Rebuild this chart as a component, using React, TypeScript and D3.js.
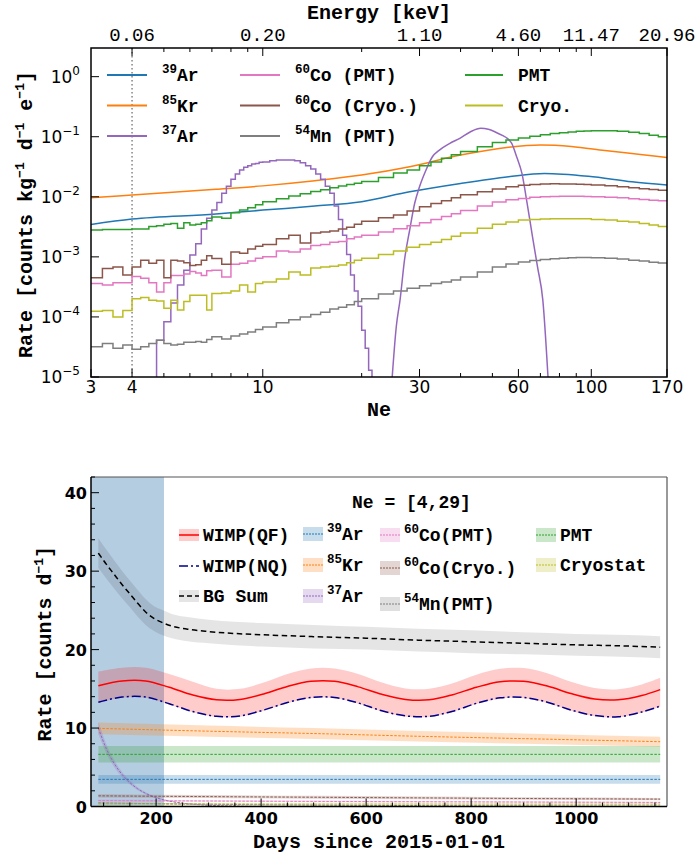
import React from 'react';
import * as d3 from 'd3';

const MONO = "'Liberation Mono', 'Courier New', monospace";
const SANS = "'DejaVu Sans', Verdana, sans-serif";

const C = {
  blue: '#1f77b4', orange: '#ff7f0e', green: '#2ca02c', red: '#d62728', purple: '#9467bd',
  brown: '#8c564b', pink: '#e377c2', gray: '#7f7f7f', olive: '#bcbd22',
};

// ---------------- TOP PANEL DATA (rate vs Ne) ----------------
const NE_EDGES = [3, 3.25, 3.5, 3.75, 4, 4.25, 4.5, 4.75, 5, 5.25, 5.5, 5.75, 6, 6.25, 6.5, 6.75, 7,
  7.5, 8, 8.5, 9, 9.5, 10, 11, 12, 13, 14, 15, 16, 17, 18, 19, 20,
  22.5, 25, 27.5, 30, 32.5, 35, 37.5, 40, 45, 50, 55, 60, 65, 70, 75, 80, 85, 90, 95, 100,
  110, 120, 130, 140, 150, 160, 170];

const SPEC_CO60_CRYO = [4.5e-4, 6.4e-4, 6.8e-4, 5.0e-4, 6.8e-4, 8.8e-4, 7.8e-4, 8.8e-4, 4.5e-4, 8.8e-4, 8.5e-4, 8.0e-4, 7.2e-4, 7.4e-4, 8.8e-4, 1.04e-3,
  9.4e-4, 7.5e-4, 1.2e-3, 1.15e-3, 1.35e-3, 1.5e-3,
  1.6e-3, 2.0e-3, 2.3e-3, 1.7e-3, 2.5e-3, 2.6e-3, 2.7e-3, 2.9e-3, 3.1e-3, 3.5e-3,
  3.9e-3, 4.5e-3, 5.0e-3, 5.8e-3, 6.8e-3, 7.7e-3, 8.6e-3, 9.6e-3,
  0.0108, 0.0121, 0.0135, 0.0147, 0.0155, 0.016, 0.0163, 0.0165, 0.0164, 0.0163, 0.0162, 0.016,
  0.0157, 0.0152, 0.0147, 0.0141, 0.0136, 0.0132, 0.0129];

const SPEC_CO60_PMT = [3.6e-4, 3.4e-4, 3.7e-4, 3.7e-4, 4.7e-4, 4.4e-4, 3.7e-4, 2.6e-4, 3.7e-4, 4.9e-4, 4.9e-4, 5.2e-4, 5.7e-4, 5.4e-4, 4.9e-4, 5.9e-4,
  6.0e-4, 4.6e-4, 7.5e-4, 7.8e-4, 8.5e-4, 9.5e-4,
  1.0e-3, 1.25e-3, 1.2e-3, 1.35e-3, 1.55e-3, 1.6e-3, 1.75e-3, 1.8e-3, 2.0e-3, 2.15e-3,
  2.3e-3, 2.6e-3, 2.95e-3, 3.3e-3, 3.7e-3, 4.2e-3, 4.7e-3, 5.2e-3,
  5.9e-3, 7.0e-3, 8.2e-3, 8.9e-3, 9.4e-3, 9.8e-3, 0.0100, 0.0101, 0.0102, 0.0102, 0.0102, 0.0101,
  0.0100, 9.8e-3, 9.6e-3, 9.3e-3, 9.0e-3, 8.8e-3, 8.6e-3];

const SPEC_CRYO = [1.24e-4, 1.28e-4, 1.0e-4, 1.28e-4, 2.0e-4, 2.1e-4, 1.9e-4, 1.85e-4, 1.4e-4, 1.9e-4, 1.3e-4, 1.8e-4, 2.3e-4, 2.3e-4, 2.3e-4, 1.3e-4,
  2.45e-4, 2.5e-4, 2.7e-4, 3.4e-4, 2.6e-4, 3.6e-4,
  3.8e-4, 4.3e-4, 5.6e-4, 5.0e-4, 6.5e-4, 6.8e-4, 7.0e-4, 7.3e-4, 8.0e-4, 8.8e-4,
  9.5e-4, 1.1e-3, 1.25e-3, 1.45e-3, 1.6e-3, 1.75e-3, 1.95e-3, 2.2e-3,
  2.5e-3, 3.0e-3, 3.5e-3, 3.8e-3, 4.1e-3, 4.2e-3, 4.25e-3, 4.3e-3, 4.3e-3, 4.3e-3, 4.3e-3, 4.3e-3,
  4.2e-3, 4.1e-3, 3.9e-3, 3.8e-3, 3.6e-3, 3.4e-3, 3.2e-3];

const SPEC_MN54 = [3.2e-5, 3.6e-5, 3.0e-5, 3.4e-5, 2.9e-5, 3.2e-5, 3.6e-5, 4.1e-5, 3.6e-5, 3.4e-5, 3.5e-5, 3.8e-5, 3.8e-5, 3.9e-5, 3.8e-5, 4.2e-5,
  4.7e-5, 4.3e-5, 4.8e-5, 5.2e-5, 5.6e-5, 6.2e-5,
  6.8e-5, 8.0e-5, 9.0e-5, 1.0e-4, 1.1e-4, 1.2e-4, 1.35e-4, 1.45e-4, 1.6e-4, 1.8e-4,
  2.0e-4, 2.4e-4, 2.7e-4, 3.0e-4, 3.3e-4, 3.6e-4, 3.8e-4, 4.1e-4,
  4.6e-4, 5.6e-4, 6.8e-4, 7.6e-4, 8.2e-4, 8.7e-4, 9.0e-4, 9.3e-4, 9.5e-4, 9.7e-4, 9.8e-4, 9.8e-4,
  9.7e-4, 9.5e-4, 9.2e-4, 8.8e-4, 8.5e-4, 8.1e-4, 7.9e-4];

const SPEC_PMT = [2.8e-3, 2.85e-3, 2.85e-3, 2.85e-3, 2.9e-3, 2.9e-3, 3.2e-3, 3.3e-3, 3.5e-3, 3.6e-3, 3.0e-3, 3.7e-3, 3.4e-3, 3.5e-3, 3.7e-3, 4.0e-3,
  4.6e-3, 4.4e-3, 5.4e-3, 6.0e-3, 6.6e-3, 7.4e-3,
  8.3e-3, 9.3e-3, 0.0103, 0.0112, 0.0122, 0.0131, 0.0141, 0.0151, 0.016, 0.0168,
  0.018, 0.021, 0.025, 0.028, 0.033, 0.038, 0.044, 0.050,
  0.057, 0.068, 0.080, 0.088, 0.095, 0.102, 0.108, 0.113, 0.117, 0.120, 0.123, 0.125,
  0.126, 0.126, 0.123, 0.119, 0.113, 0.106, 0.100];

const AR39_NE = [3, 4, 7.2, 10, 14.4, 20, 28, 40, 56, 72, 98, 133, 170];
const AR39_RATE = [3.45e-3, 4.25e-3, 5.15e-3, 6.0e-3, 7.0e-3, 8.3e-3, 0.0121, 0.0167, 0.0216, 0.0245, 0.022, 0.0178, 0.0157];

const KR85_NE = [3, 4, 7.2, 10, 14.4, 20, 28, 40, 56, 70, 87, 110, 139, 170];
const KR85_RATE = [9.6e-3, 0.0107, 0.0133, 0.0152, 0.0185, 0.023, 0.0316, 0.0495, 0.067, 0.073, 0.069, 0.059, 0.051, 0.045];

const AR37_LOW_EDGES = [4.5, 4.75, 5, 5.25, 5.5, 5.75, 6, 6.25, 6.5, 6.75, 7, 7.25, 7.5, 7.75, 8, 8.25, 8.5, 8.75, 9, 9.25, 9.5, 9.75, 10,
  10.5, 11, 11.5, 12, 12.5, 13, 13.5, 14, 14.5, 15, 15.5, 16, 16.5, 17, 17.5, 18, 18.5, 19, 19.5, 20, 20.5, 21, 21.5, 22];
const AR37_LOW_RATE = [1e-6, 4.1e-5, 8.3e-5, 1.7e-4, 3.4e-4, 6.0e-4, 1.07e-3, 1.65e-3, 2.9e-3, 4.4e-3, 6.0e-3, 8.0e-3, 0.0115, 0.015, 0.0195, 0.024,
  0.028, 0.031, 0.033, 0.035, 0.036, 0.0375,
  0.038, 0.040, 0.041, 0.041, 0.041, 0.040, 0.037, 0.033, 0.029, 0.024, 0.0195, 0.015, 0.0115, 7e-3, 4.2e-3, 2.3e-3, 1.1e-3, 5e-4,
  2.7e-4, 1.5e-4, 6e-5, 3e-5, 1.3e-5, 1e-6];

const AR37_HIGH_NE = [24.7, 25.5, 26.2, 27.0, 28.0, 29.0, 30.0, 31.4, 32.8, 34.5, 37.0, 39.8, 42.9, 46.1, 48.6, 51.0, 53.6, 55.5, 57.2,
  59.3, 61.5, 63.8, 66.2, 68.6, 71.2, 74.0];
const AR37_HIGH_RATE = [8e-6, 7e-5, 2e-4, 8.8e-4, 2.8e-3, 7.8e-3, 0.0147, 0.028, 0.046, 0.060, 0.077, 0.094, 0.121, 0.138, 0.133, 0.120,
  0.105, 0.094, 0.078, 0.046, 0.0245, 7.7e-3, 2.2e-3, 6.8e-4, 1.9e-4, 8e-6];

const TOP_X_MAJOR = [3, 4, 10, 30, 60, 100, 170];
const TOP_X_MINOR = [5, 6, 7, 8, 9, 20, 40, 50, 70, 80, 90];
const ENERGY_NE = [4, 10, 30, 60, 100, 170];
const ENERGY_LABELS = ['0.06', '0.20', '1.10', '4.60', '11.47', '20.96'];
const TOP_Y_EXP = [0, -1, -2, -3, -4, -5];

// ---------------- BOTTOM PANEL DATA (rate vs day) ----------------
const WIMP_DAYS = [90, 135, 180, 225, 270, 315, 360, 405, 450, 495, 540, 585, 630, 675, 720, 765, 810, 855, 900, 945, 990, 1035, 1080, 1125, 1160];
const WIMP_QF = [15.4, 16.0, 16.0, 15.2, 14.2, 13.6, 13.65, 14.35, 15.3, 15.95, 15.95, 15.25, 14.3, 13.65, 13.6, 14.25, 15.2, 15.9, 15.95, 15.35, 14.4, 13.7, 13.6, 14.15, 14.9];
const WIMP_QF_HI = [17.2, 17.7, 17.7, 16.9, 15.9, 15.0, 15.0, 15.8, 16.9, 17.6, 17.6, 16.9, 15.8, 15.05, 15.0, 15.7, 16.8, 17.55, 17.65, 17.0, 15.9, 15.1, 14.95, 15.55, 16.4];
const WIMP_QF_LO = [13.2, 13.85, 13.85, 13.0, 12.0, 11.4, 11.45, 12.2, 13.15, 13.8, 13.8, 13.1, 12.1, 11.45, 11.4, 12.05, 13.05, 13.75, 13.8, 13.2, 12.2, 11.5, 11.35, 11.95, 12.7];
const WIMP_NQ = [13.3, 13.95, 13.95, 13.1, 12.1, 11.5, 11.55, 12.3, 13.25, 13.9, 13.9, 13.2, 12.2, 11.55, 11.5, 12.15, 13.15, 13.85, 13.9, 13.3, 12.3, 11.6, 11.45, 12.05, 12.8];

const BG_DAYS = [90, 105, 120, 135, 150, 165, 180, 195, 210, 230, 260, 300, 350, 400, 500, 600, 700, 800, 900, 1000, 1100, 1160];
const BG_SUM = [32.3, 30.9, 29.6, 28.3, 27.1, 25.9, 24.8, 24.0, 23.5, 23.0, 22.6, 22.3, 22.05, 21.9, 21.65, 21.45, 21.2, 21.0, 20.8, 20.6, 20.45, 20.3];
const BG_ERR = [1.9, 1.85, 1.8, 1.75, 1.7, 1.7, 1.65, 1.6, 1.6, 1.55, 1.55, 1.5, 1.5, 1.5, 1.5, 1.45, 1.45, 1.45, 1.4, 1.4, 1.4, 1.4];

const COMP_DAYS = [90, 300, 500, 700, 900, 1160];
const RATE_AR39 = [3.46, 3.46, 3.46, 3.46, 3.46, 3.46];
const ERR_AR39 = [0.55, 0.55, 0.55, 0.55, 0.55, 0.55];
const RATE_KR85 = [9.96, 9.6, 9.3, 8.95, 8.65, 8.26];
const ERR_KR85 = [0.75, 0.72, 0.7, 0.68, 0.66, 0.63];
const RATE_PMT = [6.65, 6.65, 6.65, 6.65, 6.65, 6.65];
const ERR_PMT = [1.05, 1.05, 1.05, 1.05, 1.05, 1.05];
const RATE_CO60_CRYO = [1.36, 1.26, 1.18, 1.1, 1.02, 0.94];
const ERR_CO60_CRYO = [0.2, 0.19, 0.18, 0.17, 0.16, 0.15];
const RATE_CO60_PMT = [0.76, 0.7, 0.65, 0.61, 0.57, 0.52];
const ERR_CO60_PMT = [0.12, 0.11, 0.1, 0.1, 0.09, 0.09];
const RATE_MN54 = [0.45, 0.28, 0.18, 0.115, 0.075, 0.042];
const ERR_MN54 = [0.08, 0.05, 0.03, 0.02, 0.015, 0.01];
const RATE_CRYO = [0.32, 0.32, 0.31, 0.31, 0.3, 0.3];
const ERR_CRYO = [0.08, 0.08, 0.08, 0.08, 0.08, 0.08];

const AR37_DAYS = [90, 105, 120, 135, 150, 165, 180, 200, 225, 250, 300, 350, 400, 500, 700, 900, 1160];
const RATE_AR37 = [10.0, 7.4, 5.5, 4.1, 3.05, 2.25, 1.68, 1.13, 0.69, 0.43, 0.16, 0.06, 0.02, 0.003, 0.0001, 0, 0];
const ERR_AR37 = [0.8, 0.6, 0.45, 0.33, 0.25, 0.19, 0.14, 0.1, 0.06, 0.04, 0.02, 0.01, 0.005, 0.001, 0, 0, 0];

const SHADE_DAYS = [76, 215];
const BOT_X_MAJOR = [200, 400, 600, 800, 1000];
const BOT_X_MINOR = [100, 150, 250, 300, 350, 450, 500, 550, 650, 700, 750, 850, 900, 950, 1050, 1100, 1150];
const BOT_Y_MAJOR = [0, 10, 20, 30, 40];
const BOT_Y_MINOR = [2, 4, 6, 8, 12, 14, 16, 18, 22, 24, 26, 28, 32, 34, 36, 38, 42];

type Part = { s?: string; t?: string };

function RichText({ x, y, parts, size, supSize, weight = 'bold', family = MONO, anchor = 'start', rotate }: any) {
  let prevSup = false;
  const kids = parts.map((p: Part, i: number) => {
    if (p.s !== undefined) {
      const el = <tspan key={i} dy={prevSup ? 0 : -size * 0.42} fontSize={supSize}>{p.s}</tspan>;
      prevSup = true;
      return el;
    }
    const el = <tspan key={i} dy={prevSup ? size * 0.42 : 0}>{p.t}</tspan>;
    prevSup = false;
    return el;
  });
  return (
    <text x={x} y={y} fontFamily={family} fontWeight={weight} fontSize={size} textAnchor={anchor}
      transform={rotate ? `rotate(-90 ${x} ${y})` : undefined} fill="#000" style={{ whiteSpace: 'pre' }}>
      {kids}
    </text>
  );
}

export default function App() {
  // ---------- top panel ----------
  const tL = 91, tR = 667, tT = 48, tB = 377;
  const tx = d3.scaleLog().domain([3, 170]).range([tL, tR]);
  const ty = d3.scaleLog().domain([1e-5, 3]).range([tB, tT]);

  const stepPath = (edges: number[], vals: number[]) => {
    const pts: [number, number][] = vals.map((v, i) => [edges[i], v]);
    pts.push([edges[vals.length], vals[vals.length - 1]]);
    return d3.line<[number, number]>().x(d => tx(d[0])).y(d => ty(Math.max(d[1], 1e-7))).curve(d3.curveStepAfter)(pts) || '';
  };
  const smoothPath = (xs: number[], ys: number[], curve: any) => {
    const pts: [number, number][] = xs.map((x, i) => [x, ys[i]]);
    return d3.line<[number, number]>().x(d => tx(d[0])).y(d => ty(Math.max(d[1], 1e-7))).curve(curve)(pts) || '';
  };

  const topSeries = [
    { d: smoothPath(AR39_NE, AR39_RATE, d3.curveMonotoneX), c: C.blue },
    { d: smoothPath(KR85_NE, KR85_RATE, d3.curveMonotoneX), c: C.orange },
    { d: stepPath(AR37_LOW_EDGES, AR37_LOW_RATE), c: C.purple },
    { d: smoothPath(AR37_HIGH_NE, AR37_HIGH_RATE, d3.curveMonotoneX), c: C.purple },
    { d: stepPath(NE_EDGES, SPEC_CO60_PMT), c: C.pink },
    { d: stepPath(NE_EDGES, SPEC_CO60_CRYO), c: C.brown },
    { d: stepPath(NE_EDGES, SPEC_MN54), c: C.gray },
    { d: stepPath(NE_EDGES, SPEC_PMT), c: C.green },
    { d: stepPath(NE_EDGES, SPEC_CRYO), c: C.olive },
  ];

  const topLegend = [
    { col: 0, row: 0, c: C.blue, parts: [{ s: '39' }, { t: 'Ar' }] },
    { col: 0, row: 1, c: C.orange, parts: [{ s: '85' }, { t: 'Kr' }] },
    { col: 0, row: 2, c: C.purple, parts: [{ s: '37' }, { t: 'Ar' }] },
    { col: 1, row: 0, c: C.pink, parts: [{ s: '60' }, { t: 'Co (PMT)' }] },
    { col: 1, row: 1, c: C.brown, parts: [{ s: '60' }, { t: 'Co (Cryo.)' }] },
    { col: 1, row: 2, c: C.gray, parts: [{ s: '54' }, { t: 'Mn (PMT)' }] },
    { col: 2, row: 0, c: C.green, parts: [{ t: 'PMT' }] },
    { col: 2, row: 1, c: C.olive, parts: [{ t: 'Cryo.' }] },
  ];
  const tLegCols = [[107, 147, 162], [240, 280, 295], [465, 503, 518]];
  const tLegRows = [75, 105.5, 136];

  // ---------- bottom panel ----------
  const bL = 91, bR = 667, bT = 477, bB = 806.5;
  const bx = d3.scaleLinear().domain([76, 1173]).range([bL, bR]);
  const by = d3.scaleLinear().domain([0, 42]).range([bB, bT]);

  const linePath = (xs: number[], ys: number[], curve: any = d3.curveMonotoneX) =>
    d3.line<number>().x((_, i) => bx(xs[i])).y(d => by(d)).curve(curve)(ys) || '';
  const bandPath = (xs: number[], lo: number[], hi: number[], curve: any = d3.curveMonotoneX) =>
    d3.area<number>().x((_, i) => bx(xs[i])).y0((_, i) => by(lo[i])).y1((_, i) => by(hi[i])).curve(curve)(xs) || '';
  const errBand = (xs: number[], v: number[], e: number[]) =>
    bandPath(xs, v.map((a, i) => Math.max(a - e[i], 0)), v.map((a, i) => a + e[i]));
  const smooth = d3.curveCatmullRom.alpha(0.5);

  const comps = [
    { days: COMP_DAYS, v: RATE_AR39, e: ERR_AR39, c: C.blue },
    { days: COMP_DAYS, v: RATE_KR85, e: ERR_KR85, c: C.orange },
    { days: AR37_DAYS, v: RATE_AR37, e: ERR_AR37, c: C.purple },
    { days: COMP_DAYS, v: RATE_CO60_PMT, e: ERR_CO60_PMT, c: C.pink },
    { days: COMP_DAYS, v: RATE_CO60_CRYO, e: ERR_CO60_CRYO, c: C.brown },
    { days: COMP_DAYS, v: RATE_MN54, e: ERR_MN54, c: C.gray },
    { days: COMP_DAYS, v: RATE_PMT, e: ERR_PMT, c: C.green },
    { days: COMP_DAYS, v: RATE_CRYO, e: ERR_CRYO, c: C.olive },
  ];

  type BLeg = { x: number; y: number; parts: Part[]; kind: string; c: string };
  const botLegend: BLeg[] = [
    { x: 179, y: 535, parts: [{ t: 'WIMP(QF)' }], kind: 'qf', c: 'red' },
    { x: 179, y: 566, parts: [{ t: 'WIMP(NQ)' }], kind: 'nq', c: '#00008b' },
    { x: 179, y: 596, parts: [{ t: 'BG Sum' }], kind: 'bg', c: '#000' },
    { x: 303, y: 534, parts: [{ s: '39' }, { t: 'Ar' }], kind: 'comp', c: C.blue },
    { x: 303, y: 565, parts: [{ s: '85' }, { t: 'Kr' }], kind: 'comp', c: C.orange },
    { x: 303, y: 596, parts: [{ s: '37' }, { t: 'Ar' }], kind: 'comp', c: C.purple },
    { x: 380, y: 535, parts: [{ s: '60' }, { t: 'Co(PMT)' }], kind: 'comp', c: C.pink },
    { x: 380, y: 568, parts: [{ s: '60' }, { t: 'Co(Cryo.)' }], kind: 'comp', c: C.brown },
    { x: 380, y: 604, parts: [{ s: '54' }, { t: 'Mn(PMT)' }], kind: 'comp', c: C.gray },
    { x: 536, y: 535, parts: [{ t: 'PMT' }], kind: 'comp', c: C.green },
    { x: 536, y: 565, parts: [{ t: 'Cryostat' }], kind: 'comp', c: C.olive },
  ];

  const supExp = (e: number) => (e === 0 ? '0' : `\u2212${-e}`);

  return (
    <svg width={699} height={856} style={{ position: 'absolute', left: 0, top: 0, background: '#fff' }}>
      <defs>
        <clipPath id="clipTop"><rect x={tL} y={tT} width={tR - tL} height={tB - tT} /></clipPath>
        <clipPath id="clipBot"><rect x={bL} y={bT} width={bR - bL} height={bB - bT} /></clipPath>
      </defs>
      <rect x={0} y={0} width={699} height={856} fill="#fff" />

      {/* ================= TOP PANEL ================= */}
      <g clipPath="url(#clipTop)">
        <line x1={tx(4)} x2={tx(4)} y1={tT} y2={tB} stroke="#666" strokeWidth={1.2} strokeDasharray="1.5,2.5" />
        {topSeries.map((s, i) => (
          <path key={i} d={s.d} fill="none" stroke={s.c} strokeWidth={1.5} strokeLinejoin="miter" />
        ))}
      </g>
      <rect x={tL} y={tT} width={tR - tL} height={tB - tT} fill="none" stroke="#000" strokeWidth={1.5} />

      {/* bottom x ticks */}
      {TOP_X_MAJOR.map(v => (
        <g key={'tM' + v}>
          <line x1={tx(v)} x2={tx(v)} y1={tB} y2={tB - 8} stroke="#000" strokeWidth={1} />
          <text x={tx(v)} y={393} textAnchor="middle" fontFamily={SANS} fontSize={17}>{v}</text>
        </g>
      ))}
      {TOP_X_MINOR.map(v => (
        <g key={'tm' + v}>
          <line x1={tx(v)} x2={tx(v)} y1={tB} y2={tB - 4} stroke="#000" strokeWidth={1} />
          <line x1={tx(v)} x2={tx(v)} y1={tT} y2={tT + 4} stroke="#000" strokeWidth={1} />
        </g>
      ))}
      {/* top energy axis */}
      {ENERGY_NE.map((v, i) => (
        <g key={'e' + v}>
          <line x1={tx(v)} x2={tx(v)} y1={tT} y2={tT + 8} stroke="#000" strokeWidth={1} />
          <text x={tx(v)} y={41} textAnchor="middle" fontFamily={MONO} fontSize={19}>{ENERGY_LABELS[i]}</text>
        </g>
      ))}
      <text x={(tL + tR) / 2} y={19} textAnchor="middle" fontFamily={MONO} fontWeight="bold" fontSize={20}>Energy [keV]</text>
      {/* y ticks */}
      {TOP_Y_EXP.map(e => (
        <g key={'ty' + e}>
          <line x1={tL} x2={tL + 8} y1={ty(Math.pow(10, e))} y2={ty(Math.pow(10, e))} stroke="#000" strokeWidth={1} />
          <text x={80} y={ty(Math.pow(10, e)) + 6} textAnchor="end" fontFamily={SANS} fontSize={17}>
            10<tspan dy={-8} fontSize={12}>{supExp(e)}</tspan>
          </text>
        </g>
      ))}
      <text x={(tL + tR) / 2} y={416} textAnchor="middle" fontFamily={MONO} fontWeight="bold" fontSize={20}>Ne</text>
      <RichText x={32} y={(tT + tB) / 2 + 2} rotate anchor="middle" size={20} supSize={13}
        parts={[{ t: 'Rate [counts kg' }, { s: '\u22121' }, { t: ' d' }, { s: '\u22121' }, { t: ' e' }, { s: '\u22121' }, { t: ']' }]} />

      {/* top legend */}
      {topLegend.map((l, i) => {
        const [x1, x2, xt] = tLegCols[l.col];
        const y = tLegRows[l.row];
        return (
          <g key={'tl' + i}>
            <line x1={x1} x2={x2} y1={y} y2={y} stroke={l.c} strokeWidth={1.8} />
            <RichText x={xt} y={y + 6} parts={l.parts} size={18} supSize={12.5} />
          </g>
        );
      })}

      {/* ================= BOTTOM PANEL ================= */}
      <g clipPath="url(#clipBot)">
        <rect x={bx(SHADE_DAYS[0])} y={bT} width={bx(SHADE_DAYS[1]) - bx(SHADE_DAYS[0])} height={bB - bT} fill="#4682b4" fillOpacity={0.4} />
        {comps.map((c, i) => (
          <path key={'cb' + i} d={errBand(c.days, c.v, c.e)} fill={c.c} fillOpacity={0.25} stroke="none" />
        ))}
        <path d={errBand(BG_DAYS, BG_SUM, BG_ERR)} fill="#000" fillOpacity={0.1} />
        <path d={bandPath(WIMP_DAYS, WIMP_QF_LO, WIMP_QF_HI, smooth)} fill="red" fillOpacity={0.2} />
        {comps.map((c, i) => (
          <path key={'cl' + i} d={linePath(c.days, c.v)} fill="none" stroke={c.c} strokeWidth={1} strokeDasharray="2.5,1.5" />
        ))}
        <path d={linePath(BG_DAYS, BG_SUM)} fill="none" stroke="#000" strokeWidth={1.5} strokeDasharray="5.5,3.5" />
        <path d={linePath(WIMP_DAYS, WIMP_QF, smooth)} fill="none" stroke="red" strokeWidth={1.5} />
        <path d={linePath(WIMP_DAYS, WIMP_NQ, smooth)} fill="none" stroke="#00008b" strokeWidth={1.5} strokeDasharray="9,3,2,3" />
      </g>
      {/* frame */}
      <line x1={bL} x2={bR} y1={bT} y2={bT} stroke="#555" strokeWidth={1.2} />
      <line x1={bR} x2={bR} y1={bT} y2={bB} stroke="#555" strokeWidth={1.2} />
      <line x1={bL} x2={bL} y1={bT} y2={bB} stroke="#000" strokeWidth={1.5} />
      <line x1={bL} x2={bR} y1={bB} y2={bB} stroke="#000" strokeWidth={1.5} />
      {BOT_X_MAJOR.map(v => (
        <g key={'bxM' + v}>
          <line x1={bx(v)} x2={bx(v)} y1={bB} y2={bB - 8} stroke="#000" strokeWidth={1} />
          <text x={bx(v)} y={824} textAnchor="middle" fontFamily={SANS} fontWeight="bold" fontSize={16}>{v}</text>
        </g>
      ))}
      {BOT_X_MINOR.map(v => (
        <line key={'bxm' + v} x1={bx(v)} x2={bx(v)} y1={bB} y2={bB - 4} stroke="#000" strokeWidth={1} />
      ))}
      {BOT_Y_MAJOR.map(v => (
        <g key={'byM' + v}>
          <line x1={bL} x2={bL + 8} y1={by(v)} y2={by(v)} stroke="#000" strokeWidth={1} />
          <text x={87} y={by(v) + 6} textAnchor="end" fontFamily={SANS} fontWeight="bold" fontSize={16}>{v}</text>
        </g>
      ))}
      {BOT_Y_MINOR.map(v => (
        <line key={'bym' + v} x1={bL} x2={bL + 4} y1={by(v)} y2={by(v)} stroke="#000" strokeWidth={1} />
      ))}
      <text x={(bL + bR) / 2} y={848} textAnchor="middle" fontFamily={MONO} fontWeight="bold" fontSize={20}>Days since 2015-01-01</text>
      <RichText x={51} y={(bT + bB) / 2 + 2} rotate anchor="middle" size={20} supSize={13}
        parts={[{ t: 'Rate [counts d' }, { s: '\u22121' }, { t: ']' }]} />

      {/* bottom legend */}
      <text x={352} y={508} fontFamily={MONO} fontWeight="bold" fontSize={18}>Ne = [4,29]</text>
      {botLegend.map((l, i) => {
        const hx = l.x, hy = l.y, hw = 20;
        let handle;
        if (l.kind === 'qf') {
          handle = (<g><rect x={hx} y={hy - 6} width={hw} height={12} fill="red" fillOpacity={0.2} />
            <line x1={hx} x2={hx + hw} y1={hy} y2={hy} stroke="red" strokeWidth={1.5} /></g>);
        } else if (l.kind === 'nq') {
          handle = <line x1={hx} x2={hx + hw} y1={hy} y2={hy} stroke={l.c} strokeWidth={1.5} strokeDasharray="9,3,2,3" />;
        } else if (l.kind === 'bg') {
          handle = (<g><rect x={hx} y={hy - 6} width={hw} height={12} fill="#000" fillOpacity={0.1} />
            <line x1={hx} x2={hx + hw} y1={hy} y2={hy} stroke="#000" strokeWidth={1.5} strokeDasharray="5,3" /></g>);
        } else {
          handle = (<g><rect x={hx} y={hy - 7} width={hw} height={14} fill={l.c} fillOpacity={0.25} />
            <line x1={hx} x2={hx + hw} y1={hy} y2={hy} stroke={l.c} strokeWidth={1} strokeDasharray="2,1" /></g>);
        }
        return (
          <g key={'bl' + i}>
            {handle}
            <RichText x={hx + 24} y={hy + 6} parts={l.parts} size={18} supSize={12.5} />
          </g>
        );
      })}
    </svg>
  );
}
